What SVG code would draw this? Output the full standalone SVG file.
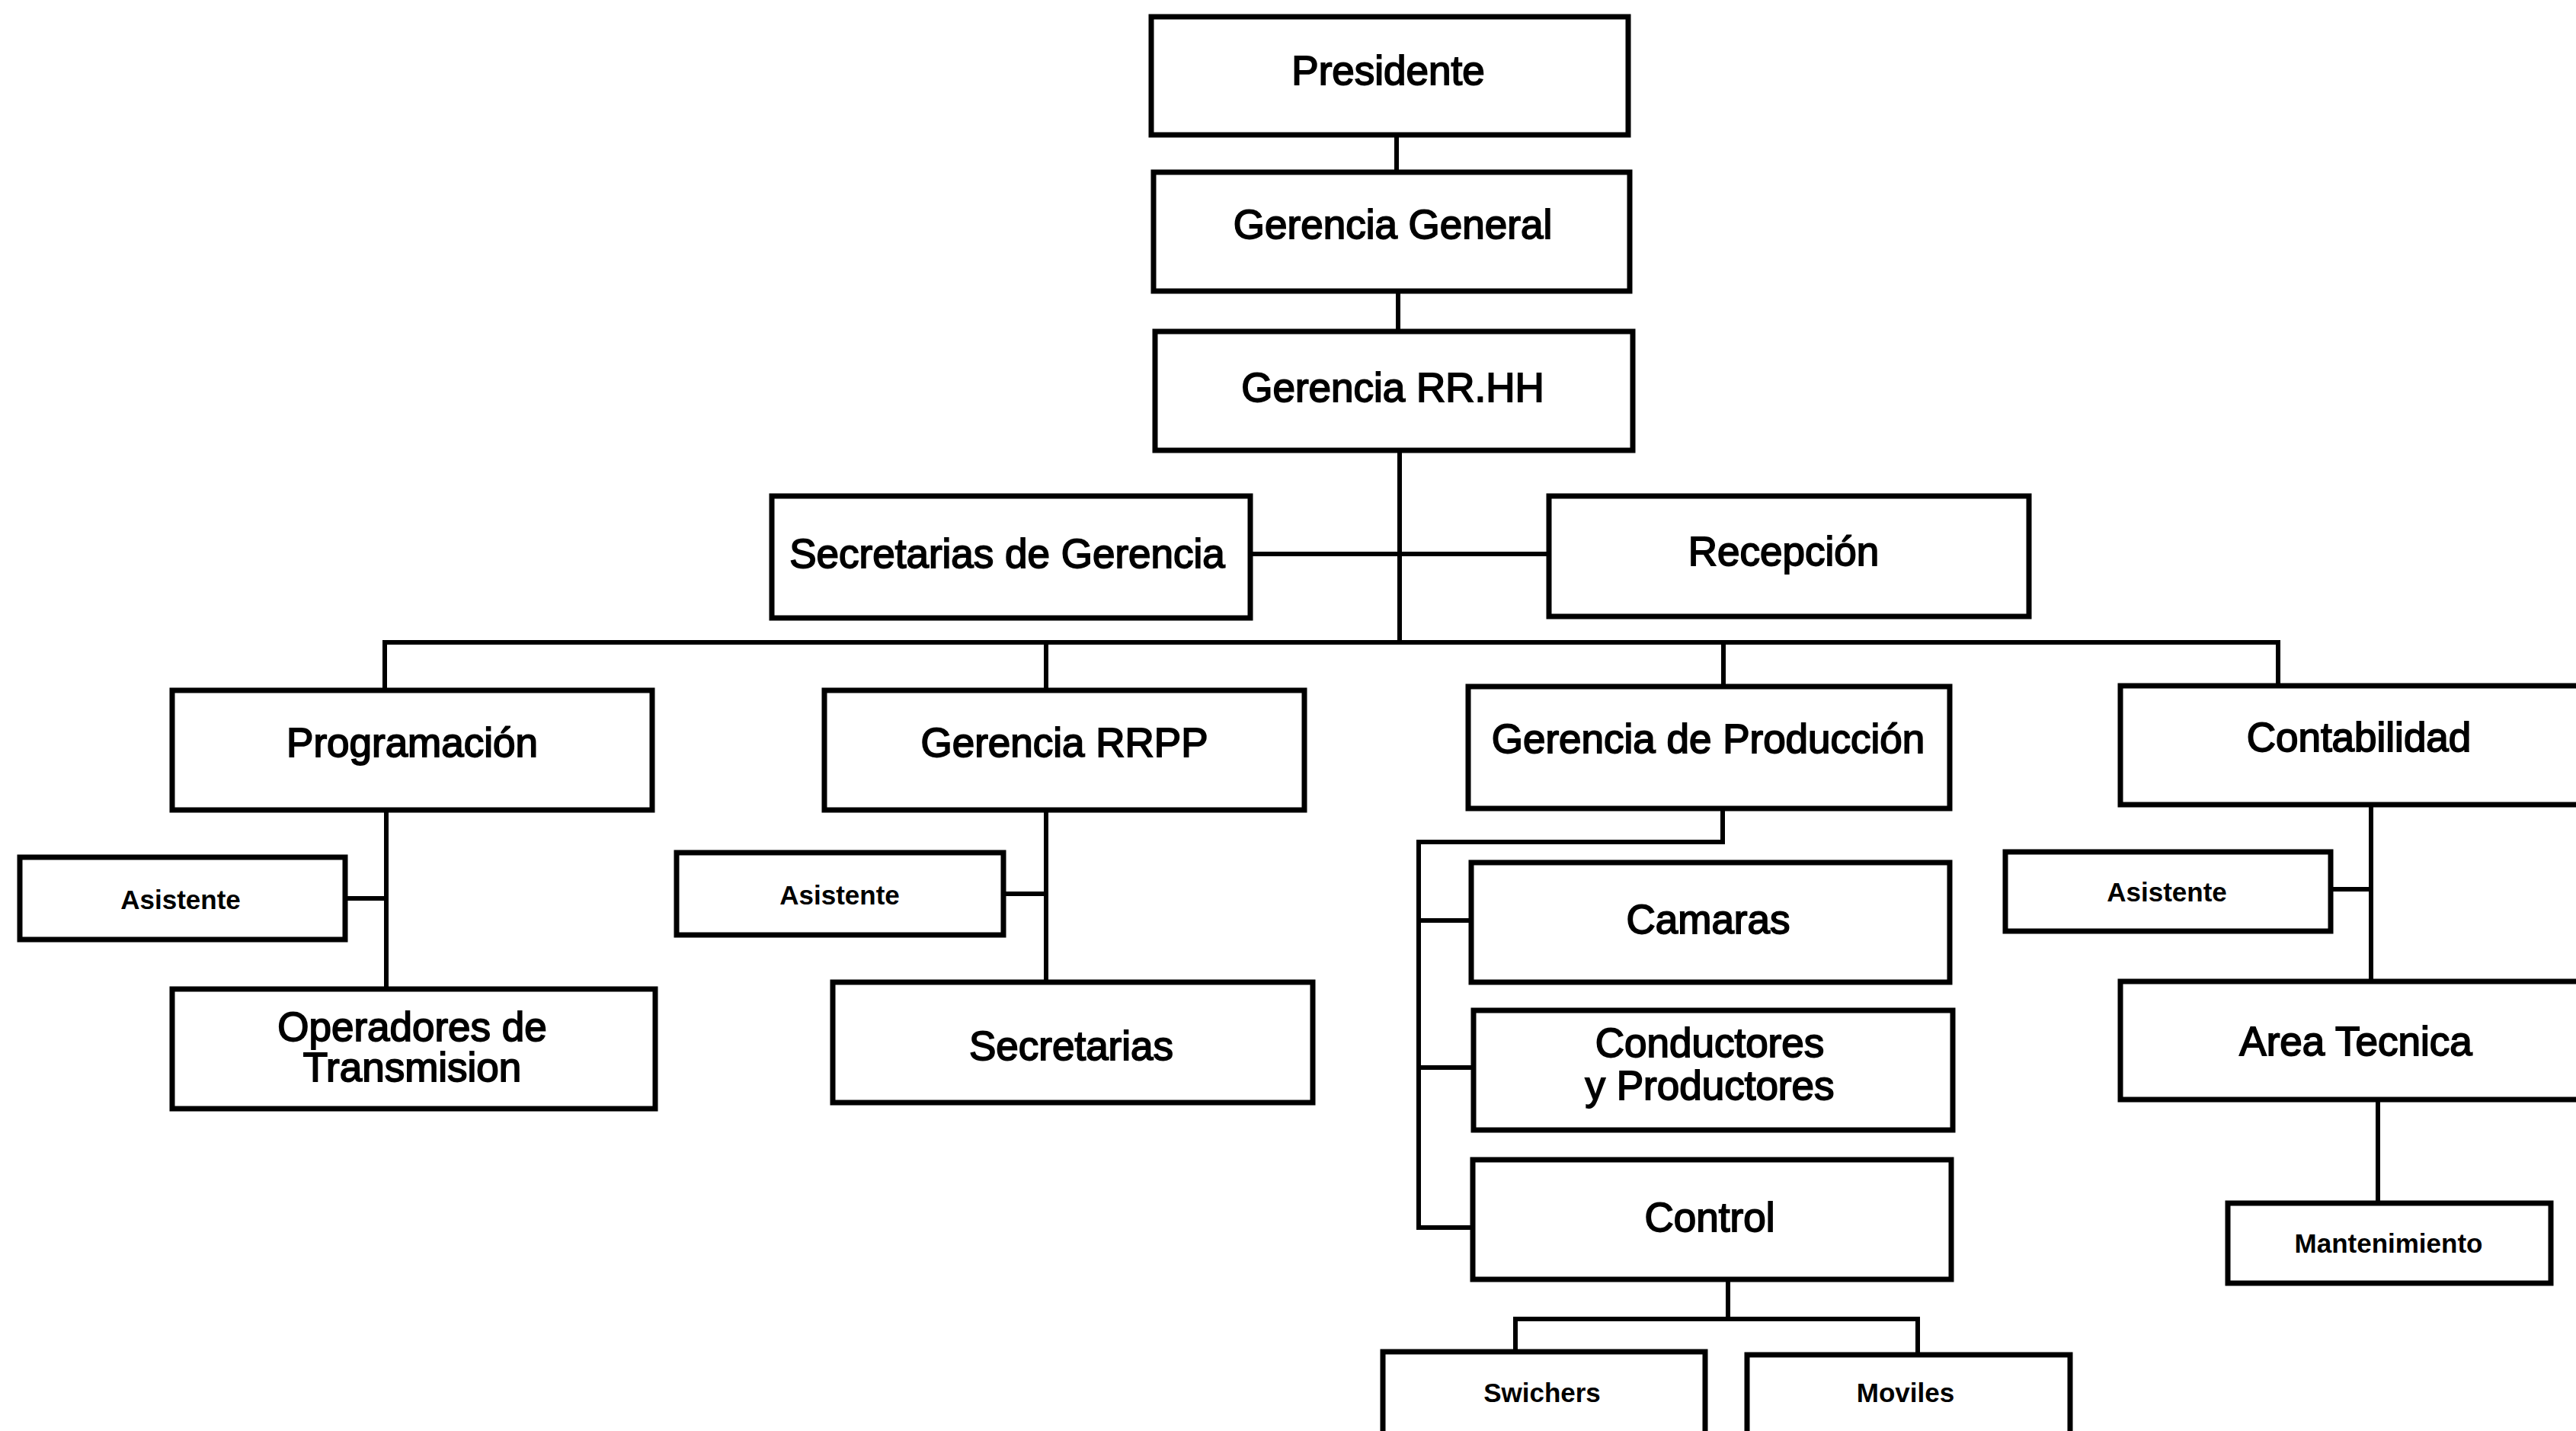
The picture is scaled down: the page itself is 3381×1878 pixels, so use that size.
<svg xmlns="http://www.w3.org/2000/svg" width="3381" height="1878" viewBox="0 0 3381 1878">
<style>
.box{fill:#fff;stroke:#000;stroke-width:7}
.ln{fill:none;stroke:#000;stroke-width:6;stroke-linecap:square}
.t{font-family:"Liberation Sans",Arial,sans-serif;font-size:53px;fill:#000;stroke:#000;stroke-width:1.8;text-anchor:middle}
.s{font-family:"Liberation Sans",Arial,sans-serif;font-size:35px;font-weight:bold;fill:#000;text-anchor:middle}
</style>
<rect width="3381" height="1878" fill="#fff"/>
<g id="connectors">
<path class="ln" d="M1833 177V226M1835 382V435M1837 591V843M1641 727H2033"/>
<path class="ln" d="M505 906V843H2990V901M1373 843V906M2262 843V901"/>
<path class="ln" d="M507 1063V1298M453 1179H507"/>
<path class="ln" d="M1373 1063V1289M1317 1173H1373"/>
<path class="ln" d="M2261 1061V1105H1862V1611H1933M1862 1208H1931M1862 1401H1934"/>
<path class="ln" d="M2268 1679V1731M1989 1774V1731H2517V1778"/>
<path class="ln" d="M3112 1056V1288M3059 1167H3112M3121 1443V1579"/>
</g>
<g id="presidente"><rect class="box" x="1511" y="22" width="626" height="155"/><text class="t" x="1822" y="111">Presidente</text></g>
<g id="gerencia-general"><rect class="box" x="1514" y="226" width="625" height="156"/><text class="t" x="1828" y="313">Gerencia General</text></g>
<g id="gerencia-rrhh"><rect class="box" x="1516" y="435" width="627" height="156"/><text class="t" x="1828" y="527">Gerencia RR.HH</text></g>
<g id="secretarias-gerencia"><rect class="box" x="1013" y="651" width="628" height="160"/><text class="t" x="1322" y="745">Secretarias de Gerencia</text></g>
<g id="recepcion"><rect class="box" x="2033" y="651" width="630" height="158"/><text class="t" x="2341" y="742">Recepción</text></g>
<g id="programacion"><rect class="box" x="226" y="906" width="630" height="157"/><text class="t" x="541" y="993">Programación</text></g>
<g id="gerencia-rrpp"><rect class="box" x="1082" y="906" width="630" height="157"/><text class="t" x="1397" y="993">Gerencia RRPP</text></g>
<g id="gerencia-produccion"><rect class="box" x="1927" y="901" width="632" height="160"/><text class="t" x="2242" y="988">Gerencia de Producción</text></g>
<g id="contabilidad"><rect class="box" x="2783" y="900" width="640" height="156"/><text class="t" x="3096" y="986">Contabilidad</text></g>
<g id="asistente-prog"><rect class="box" x="26" y="1125" width="427" height="108"/><text class="s" x="237" y="1193">Asistente</text></g>
<g id="operadores"><rect class="box" x="226" y="1298" width="634" height="157"/><text class="t" x="541" y="1366">Operadores de</text><text class="t" x="541" y="1419">Transmision</text></g>
<g id="asistente-rrpp"><rect class="box" x="888" y="1119" width="429" height="108"/><text class="s" x="1102" y="1187">Asistente</text></g>
<g id="secretarias"><rect class="box" x="1093" y="1289" width="630" height="158"/><text class="t" x="1406" y="1391">Secretarias</text></g>
<g id="camaras"><rect class="box" x="1931" y="1132" width="628" height="157"/><text class="t" x="2242" y="1225">Camaras</text></g>
<g id="conductores"><rect class="box" x="1934" y="1326" width="629" height="157"/><text class="t" x="2244" y="1387">Conductores</text><text class="t" x="2244" y="1443">y Productores</text></g>
<g id="control"><rect class="box" x="1933" y="1522" width="628" height="157"/><text class="t" x="2244" y="1616">Control</text></g>
<g id="swichers"><rect class="box" x="1815" y="1774" width="423" height="120"/><text class="s" x="2024" y="1840">Swichers</text></g>
<g id="moviles"><rect class="box" x="2293" y="1778" width="424" height="116"/><text class="s" x="2501" y="1840">Moviles</text></g>
<g id="asistente-cont"><rect class="box" x="2632" y="1118" width="427" height="104"/><text class="s" x="2844" y="1183">Asistente</text></g>
<g id="area-tecnica"><rect class="box" x="2783" y="1288" width="640" height="155"/><text class="t" x="3092" y="1385">Area Tecnica</text></g>
<g id="mantenimiento"><rect class="box" x="2924" y="1579" width="424" height="105"/><text class="s" x="3135" y="1644">Mantenimiento</text></g>
</svg>
